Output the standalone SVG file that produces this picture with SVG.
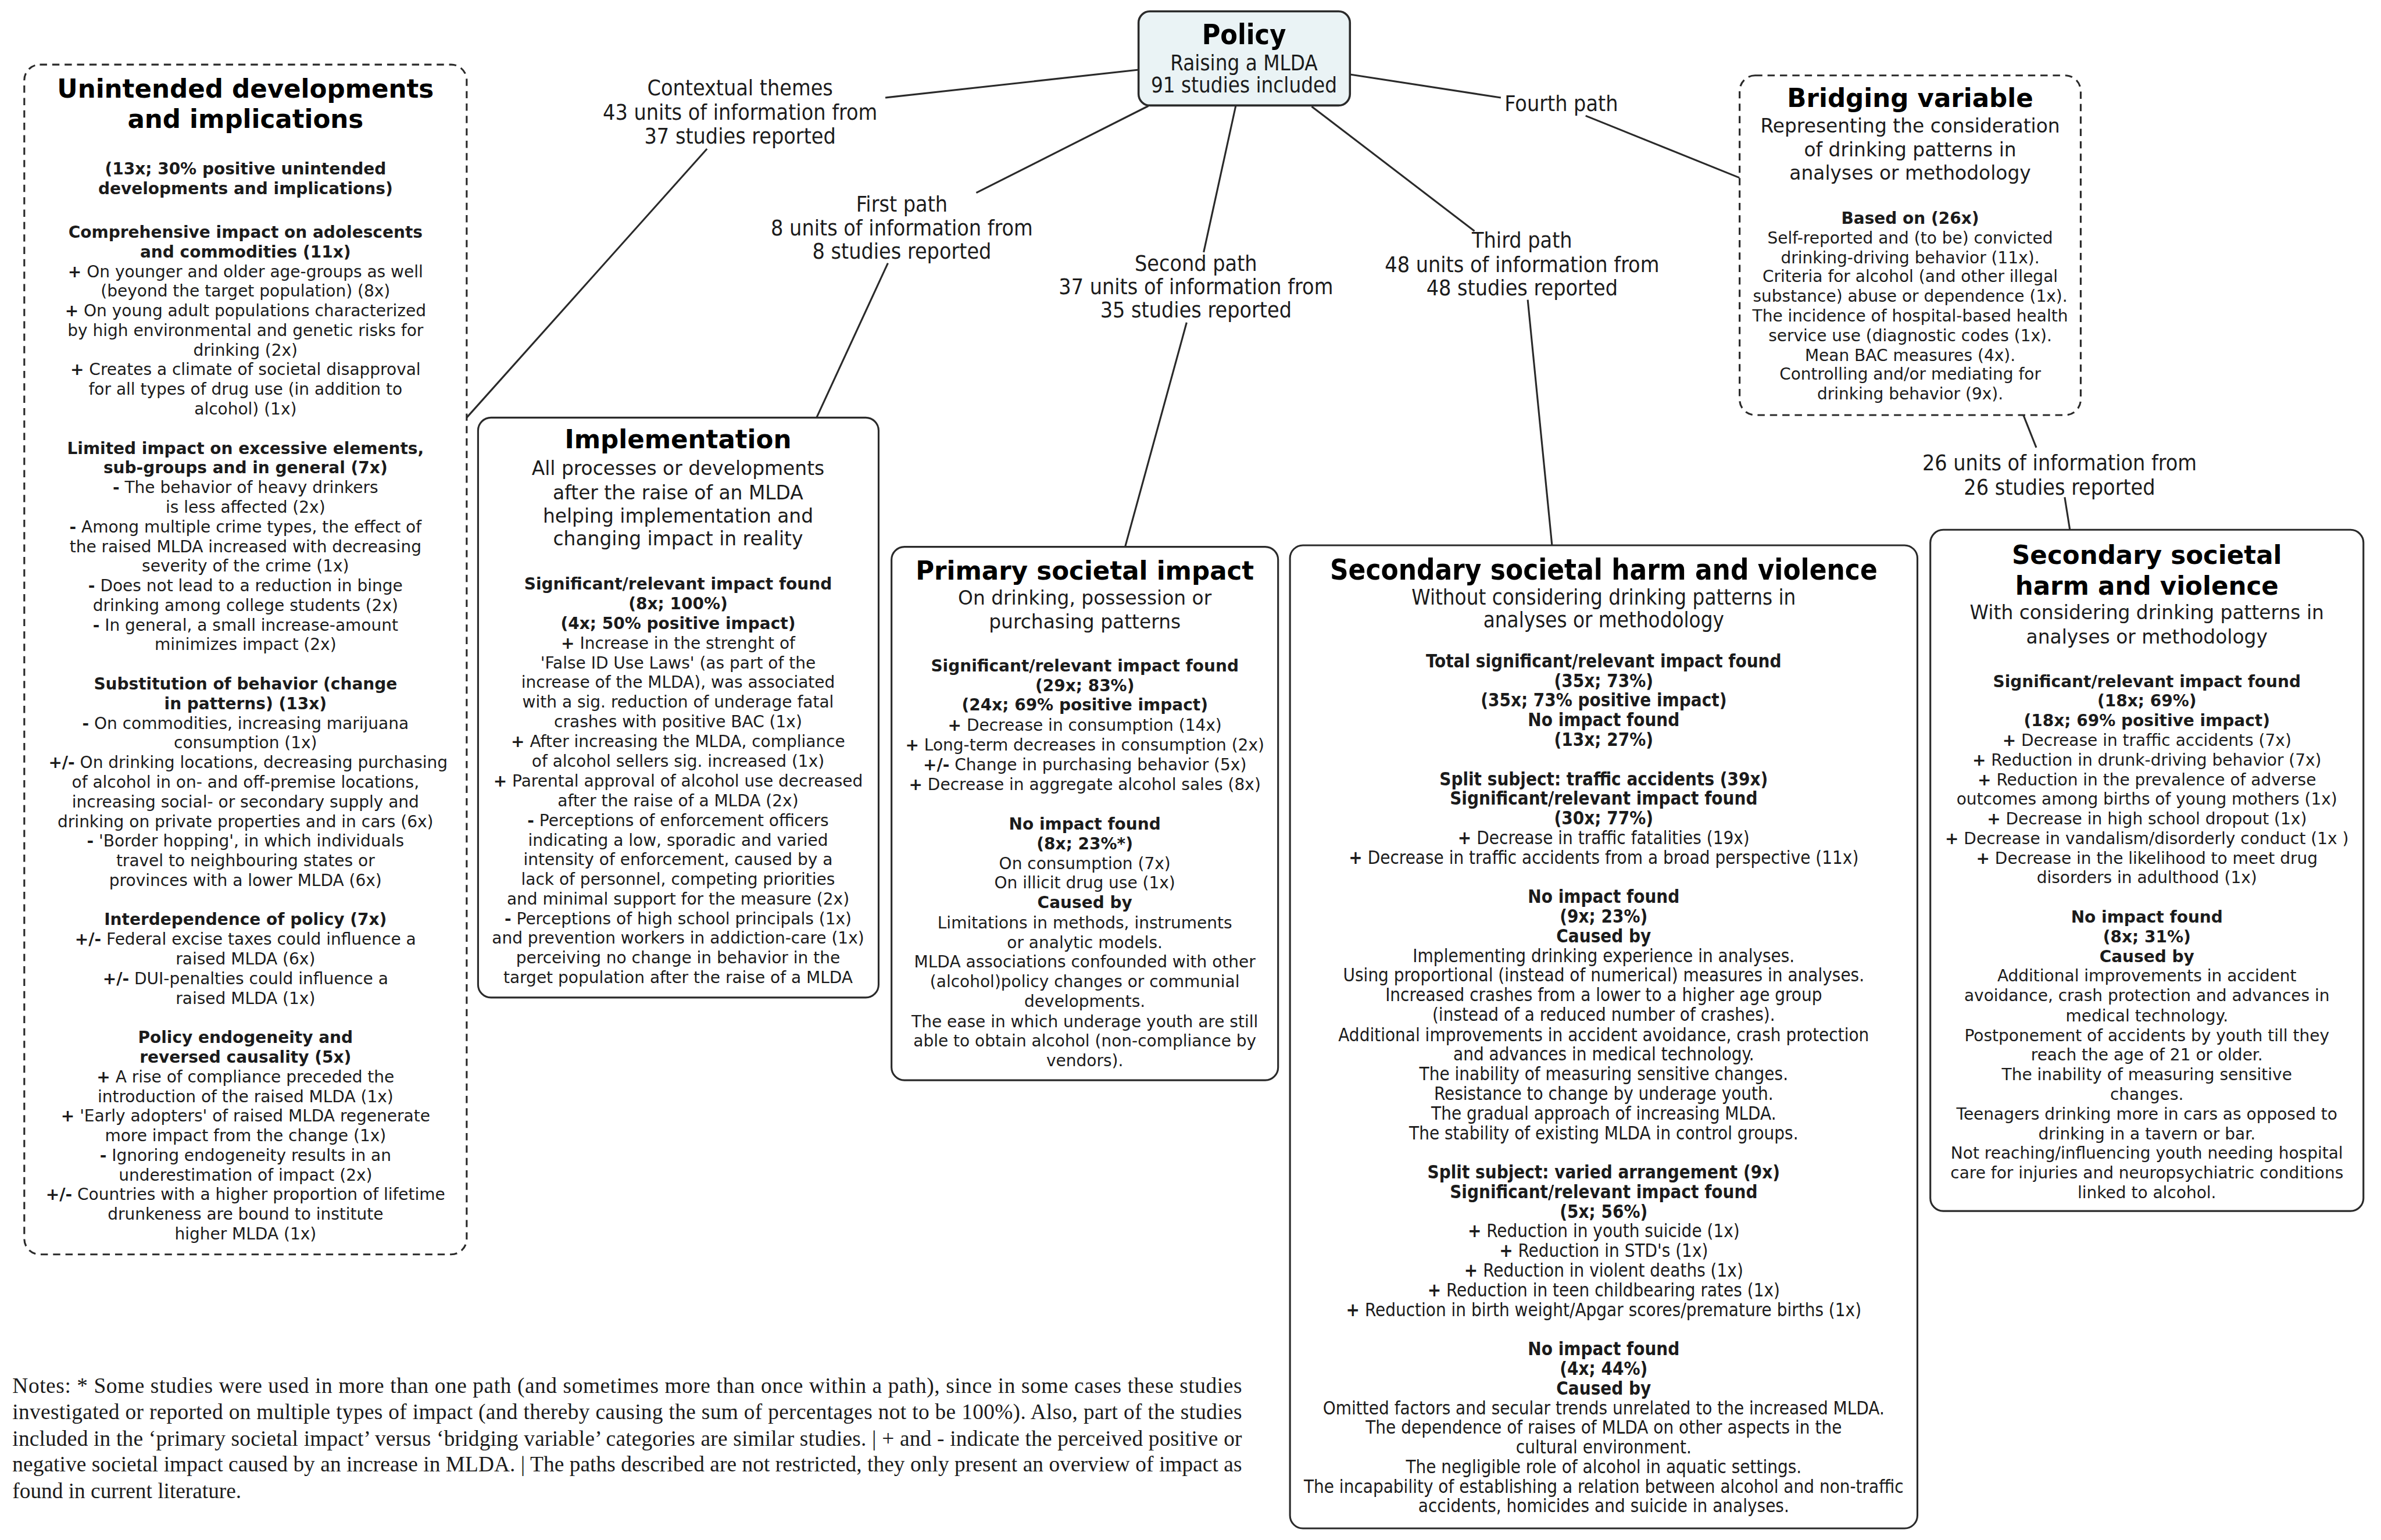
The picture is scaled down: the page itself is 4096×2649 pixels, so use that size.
<svg xmlns="http://www.w3.org/2000/svg" width="4096" height="2649" viewBox="0 0 4096 2649">
<style>
text{fill:#1b1b1b;text-anchor:middle;font-family:'DejaVu Sans',Verdana,sans-serif}
.b{font-size:31.5px}
.h{font-size:31.5px;font-weight:bold}
.t{font-size:49px;font-weight:bold;fill:#000}
.s{font-size:37px}
.c{font-family:'DejaVu Sans Condensed','DejaVu Sans',sans-serif;font-stretch:condensed}
.cb{font-size:35px}
.ch{font-size:35px;font-weight:bold}
.ct{font-size:55px;font-weight:bold;fill:#000}
.cs{font-size:41px}
.lb{font-size:42px}
.n{font-family:'Liberation Serif','Times New Roman',serif;font-size:42px;text-anchor:start}
.box{fill:#fff;stroke:#2a2a2a;stroke-width:3.5}
.dash{fill:#fff;stroke:#2a2a2a;stroke-width:3.5;stroke-dasharray:14 10}
.ln{stroke:#2a2a2a;stroke-width:3.5;fill:none}
</style>
<rect width="4096" height="2649" fill="#fff"/>
<g transform="scale(0.88908)">
<g id="connectors">
<line class="ln" x1="2203" y1="135" x2="1713" y2="189"/>
<line class="ln" x1="1368" y1="288" x2="903" y2="808"/>
<line class="ln" x1="2222" y1="205" x2="1889" y2="373"/>
<line class="ln" x1="1718" y1="509" x2="1580" y2="808"/>
<line class="ln" x1="2391" y1="205" x2="2329" y2="488"/>
<line class="ln" x1="2296" y1="624" x2="2177" y2="1058"/>
<line class="ln" x1="2538" y1="206" x2="2853" y2="447"/>
<line class="ln" x1="2956" y1="580" x2="3003" y2="1055"/>
<line class="ln" x1="2612" y1="144" x2="2904" y2="189"/>
<line class="ln" x1="3068" y1="224" x2="3366" y2="344"/>
<line class="ln" x1="3915" y1="803" x2="3940" y2="866"/>
<line class="ln" x1="3995" y1="962" x2="4005" y2="1025"/>
<g class="c">
<text class="lb" x="1432" y="185">Contextual themes</text>
<text class="lb" x="1432" y="232">43 units of information from</text>
<text class="lb" x="1432" y="278">37 studies reported</text>
<text class="lb" x="1745" y="409">First path</text>
<text class="lb" x="1745" y="455">8 units of information from</text>
<text class="lb" x="1745" y="500">8 studies reported</text>
<text class="lb" x="2314" y="524">Second path</text>
<text class="lb" x="2314" y="569">37 units of information from</text>
<text class="lb" x="2314" y="614">35 studies reported</text>
<text class="lb" x="2945" y="479">Third path</text>
<text class="lb" x="2945" y="526">48 units of information from</text>
<text class="lb" x="2945" y="571">48 studies reported</text>
<text class="lb" x="3021" y="215">Fourth path</text>
<text class="lb" x="3985" y="910">26 units of information from</text>
<text class="lb" x="3985" y="957">26 studies reported</text>
</g>
</g>

<g id="policy">
<rect x="2203" y="22" width="409" height="182" rx="22" fill="#eaf3f5" stroke="#2a2a2a" stroke-width="4"/>
<g class="c">
<text x="2407" y="86" style="font-size:54px;font-weight:bold;fill:#000">Policy</text>
<text class="cs" x="2407" y="136">Raising a MLDA</text>
<text class="cs" x="2407" y="179">91 studies included</text>
</g>
</g>

<g id="unintended">
<rect class="dash" x="47" y="125" width="856" height="2302" rx="30"/>
<text class="t" x="475" y="189">Unintended developments</text>
<text class="t" x="475" y="248">and implications</text>
<text class="h" x="475" y="337">(13x; 30% positive unintended</text>
<text class="h" x="475" y="376">developments and implications)</text>
<text class="h" x="475" y="460">Comprehensive impact on adolescents</text>
<text class="h" x="475" y="498">and commodities (11x)</text>
<text class="b" x="475" y="536"><tspan font-weight="bold">+</tspan> On younger and older age-groups as well</text>
<text class="b" x="475" y="574">(beyond the target population) (8x)</text>
<text class="b" x="475" y="612"><tspan font-weight="bold">+</tspan> On young adult populations characterized</text>
<text class="b" x="475" y="650">by high environmental and genetic risks for</text>
<text class="b" x="475" y="688">drinking (2x)</text>
<text class="b" x="475" y="726"><tspan font-weight="bold">+</tspan> Creates a climate of societal disapproval</text>
<text class="b" x="475" y="764">for all types of drug use (in addition to</text>
<text class="b" x="475" y="802">alcohol) (1x)</text>
<text class="h" x="475" y="878">Limited impact on excessive elements,</text>
<text class="h" x="475" y="916">sub-groups and in general (7x)</text>
<text class="b" x="475" y="954"><tspan font-weight="bold">-</tspan> The behavior of heavy drinkers</text>
<text class="b" x="475" y="992">is less affected (2x)</text>
<text class="b" x="475" y="1030"><tspan font-weight="bold">-</tspan> Among multiple crime types, the effect of</text>
<text class="b" x="475" y="1068">the raised MLDA increased with decreasing</text>
<text class="b" x="475" y="1106">severity of the crime (1x)</text>
<text class="b" x="475" y="1144"><tspan font-weight="bold">-</tspan> Does not lead to a reduction in binge</text>
<text class="b" x="475" y="1182">drinking among college students (2x)</text>
<text class="b" x="475" y="1220"><tspan font-weight="bold">-</tspan> In general, a small increase-amount</text>
<text class="b" x="475" y="1258">minimizes impact (2x)</text>
<text class="h" x="475" y="1334">Substitution of behavior (change</text>
<text class="h" x="475" y="1372">in patterns) (13x)</text>
<text class="b" x="475" y="1410"><tspan font-weight="bold">-</tspan> On commodities, increasing marijuana</text>
<text class="b" x="475" y="1448">consumption (1x)</text>
<text class="b" x="480" y="1486"><tspan font-weight="bold">+/-</tspan> On drinking locations, decreasing purchasing</text>
<text class="b" x="475" y="1524">of alcohol in on- and off-premise locations,</text>
<text class="b" x="475" y="1562">increasing social- or secondary supply and</text>
<text class="b" x="475" y="1600">drinking on private properties and in cars (6x)</text>
<text class="b" x="475" y="1638"><tspan font-weight="bold">-</tspan> 'Border hopping', in which individuals</text>
<text class="b" x="475" y="1676">travel to neighbouring states or</text>
<text class="b" x="475" y="1714">provinces with a lower MLDA (6x)</text>
<text class="h" x="475" y="1790">Interdependence of policy (7x)</text>
<text class="b" x="475" y="1828"><tspan font-weight="bold">+/-</tspan> Federal excise taxes could influence a</text>
<text class="b" x="475" y="1866">raised MLDA (6x)</text>
<text class="b" x="475" y="1904"><tspan font-weight="bold">+/-</tspan> DUI-penalties could influence a</text>
<text class="b" x="475" y="1942">raised MLDA (1x)</text>
<text class="h" x="475" y="2018">Policy endogeneity and</text>
<text class="h" x="475" y="2056">reversed causality (5x)</text>
<text class="b" x="475" y="2094"><tspan font-weight="bold">+</tspan> A rise of compliance preceded the</text>
<text class="b" x="475" y="2132">introduction of the raised MLDA (1x)</text>
<text class="b" x="475" y="2170"><tspan font-weight="bold">+</tspan> 'Early adopters' of raised MLDA regenerate</text>
<text class="b" x="475" y="2208">more impact from the change (1x)</text>
<text class="b" x="475" y="2246"><tspan font-weight="bold">-</tspan> Ignoring endogeneity results in an</text>
<text class="b" x="475" y="2284">underestimation of impact (2x)</text>
<text class="b" x="475" y="2322"><tspan font-weight="bold">+/-</tspan> Countries with a higher proportion of lifetime</text>
<text class="b" x="475" y="2360">drunkeness are bound to institute</text>
<text class="b" x="475" y="2398">higher MLDA (1x)</text>
</g>

<g id="implementation">
<rect class="box" x="925" y="808" width="775" height="1122" rx="25"/>
<text class="t" x="1312" y="867">Implementation</text>
<text class="s" x="1312" y="919">All processes or developments</text>
<text class="s" x="1312" y="966">after the raise of an MLDA</text>
<text class="s" x="1312" y="1011">helping implementation and</text>
<text class="s" x="1312" y="1055">changing impact in reality</text>
<text class="h" x="1312" y="1141">Significant/relevant impact found</text>
<text class="h" x="1312" y="1179">(8x; 100%)</text>
<text class="h" x="1312" y="1217">(4x; 50% positive impact)</text>
<text class="b" x="1312" y="1255"><tspan font-weight="bold">+</tspan> Increase in the strenght of</text>
<text class="b" x="1312" y="1293">'False ID Use Laws' (as part of the</text>
<text class="b" x="1312" y="1331">increase of the MLDA), was associated</text>
<text class="b" x="1312" y="1369">with a sig. reduction of underage fatal</text>
<text class="b" x="1312" y="1407">crashes with positive BAC (1x)</text>
<text class="b" x="1312" y="1445"><tspan font-weight="bold">+</tspan> After increasing the MLDA, compliance</text>
<text class="b" x="1312" y="1483">of alcohol sellers sig. increased (1x)</text>
<text class="b" x="1312" y="1522"><tspan font-weight="bold">+</tspan> Parental approval of alcohol use decreased</text>
<text class="b" x="1312" y="1560">after the raise of a MLDA (2x)</text>
<text class="b" x="1312" y="1598"><tspan font-weight="bold">-</tspan> Perceptions of enforcement officers</text>
<text class="b" x="1312" y="1636">indicating a low, sporadic and varied</text>
<text class="b" x="1312" y="1674">intensity of enforcement, caused by a</text>
<text class="b" x="1312" y="1712">lack of personnel, competing priorities</text>
<text class="b" x="1312" y="1750">and minimal support for the measure (2x)</text>
<text class="b" x="1312" y="1788"><tspan font-weight="bold">-</tspan> Perceptions of high school principals (1x)</text>
<text class="b" x="1312" y="1826">and prevention workers in addiction-care (1x)</text>
<text class="b" x="1312" y="1864">perceiving no change in behavior in the</text>
<text class="b" x="1312" y="1902">target population after the raise of a MLDA</text>
</g>

<g id="primary">
<rect class="box" x="1725" y="1058" width="748" height="1032" rx="25"/>
<text class="t" x="2099" y="1121">Primary societal impact</text>
<text class="s" x="2099" y="1170">On drinking, possession or</text>
<text class="s" x="2099" y="1216">purchasing patterns</text>
<text class="h" x="2099" y="1299">Significant/relevant impact found</text>
<text class="h" x="2099" y="1337">(29x; 83%)</text>
<text class="h" x="2099" y="1375">(24x; 69% positive impact)</text>
<text class="b" x="2099" y="1414"><tspan font-weight="bold">+</tspan> Decrease in consumption (14x)</text>
<text class="b" x="2099" y="1452"><tspan font-weight="bold">+</tspan> Long-term decreases in consumption (2x)</text>
<text class="b" x="2099" y="1490"><tspan font-weight="bold">+/-</tspan> Change in purchasing behavior (5x)</text>
<text class="b" x="2099" y="1528"><tspan font-weight="bold">+</tspan> Decrease in aggregate alcohol sales (8x)</text>
<text class="h" x="2099" y="1605">No impact found</text>
<text class="h" x="2099" y="1643">(8x; 23%*)</text>
<text class="b" x="2099" y="1681">On consumption (7x)</text>
<text class="b" x="2099" y="1719">On illicit drug use (1x)</text>
<text class="h" x="2099" y="1757">Caused by</text>
<text class="b" x="2099" y="1796">Limitations in methods, instruments</text>
<text class="b" x="2099" y="1834">or analytic models.</text>
<text class="b" x="2099" y="1872">MLDA associations confounded with other</text>
<text class="b" x="2099" y="1910">(alcohol)policy changes or communial</text>
<text class="b" x="2099" y="1948">developments.</text>
<text class="b" x="2099" y="1987">The ease in which underage youth are still</text>
<text class="b" x="2099" y="2025">able to obtain alcohol (non-compliance by</text>
<text class="b" x="2099" y="2063">vendors).</text>
</g>

<g id="secondary-without">
<rect class="box" x="2496" y="1055" width="1214" height="1902" rx="25"/>
<g class="c">
<text class="ct" x="3103" y="1121">Secondary societal harm and violence</text>
<text class="cs" x="3103" y="1170">Without considering drinking patterns in</text>
<text class="cs" x="3103" y="1214">analyses or methodology</text>
<text class="ch" x="3103" y="1291">Total significant/relevant impact found</text>
<text class="ch" x="3103" y="1329">(35x; 73%)</text>
<text class="ch" x="3103" y="1367">(35x; 73% positive impact)</text>
<text class="ch" x="3103" y="1405">No impact found</text>
<text class="ch" x="3103" y="1443">(13x; 27%)</text>
<text class="ch" x="3103" y="1519">Split subject: traffic accidents (39x)</text>
<text class="ch" x="3103" y="1557">Significant/relevant impact found</text>
<text class="ch" x="3103" y="1595">(30x; 77%)</text>
<text class="cb" x="3103" y="1633"><tspan font-weight="bold">+</tspan> Decrease in traffic fatalities (19x)</text>
<text class="cb" x="3103" y="1671"><tspan font-weight="bold">+</tspan> Decrease in traffic accidents from a broad perspective (11x)</text>
<text class="ch" x="3103" y="1747">No impact found</text>
<text class="ch" x="3103" y="1785">(9x; 23%)</text>
<text class="ch" x="3103" y="1823">Caused by</text>
<text class="cb" x="3103" y="1861">Implementing drinking experience in analyses.</text>
<text class="cb" x="3103" y="1899">Using proportional (instead of numerical) measures in analyses.</text>
<text class="cb" x="3103" y="1937">Increased crashes from a lower to a higher age group</text>
<text class="cb" x="3103" y="1975">(instead of a reduced number of crashes).</text>
<text class="cb" x="3103" y="2014">Additional improvements in accident avoidance, crash protection</text>
<text class="cb" x="3103" y="2052">and advances in medical technology.</text>
<text class="cb" x="3103" y="2090">The inability of measuring sensitive changes.</text>
<text class="cb" x="3103" y="2128">Resistance to change by underage youth.</text>
<text class="cb" x="3103" y="2166">The gradual approach of increasing MLDA.</text>
<text class="cb" x="3103" y="2204">The stability of existing MLDA in control groups.</text>
<text class="ch" x="3103" y="2280">Split subject: varied arrangement (9x)</text>
<text class="ch" x="3103" y="2318">Significant/relevant impact found</text>
<text class="ch" x="3103" y="2356">(5x; 56%)</text>
<text class="cb" x="3103" y="2394"><tspan font-weight="bold">+</tspan> Reduction in youth suicide (1x)</text>
<text class="cb" x="3103" y="2432"><tspan font-weight="bold">+</tspan> Reduction in STD's (1x)</text>
<text class="cb" x="3103" y="2470"><tspan font-weight="bold">+</tspan> Reduction in violent deaths (1x)</text>
<text class="cb" x="3103" y="2508"><tspan font-weight="bold">+</tspan> Reduction in teen childbearing rates (1x)</text>
<text class="cb" x="3103" y="2546"><tspan font-weight="bold">+</tspan> Reduction in birth weight/Apgar scores/premature births (1x)</text>
<text class="ch" x="3103" y="2622">No impact found</text>
<text class="ch" x="3103" y="2660">(4x; 44%)</text>
<text class="ch" x="3103" y="2698">Caused by</text>
<text class="cb" x="3103" y="2736">Omitted factors and secular trends unrelated to the increased MLDA.</text>
<text class="cb" x="3103" y="2774">The dependence of raises of MLDA on other aspects in the</text>
<text class="cb" x="3103" y="2812">cultural environment.</text>
<text class="cb" x="3103" y="2850">The negligible role of alcohol in aquatic settings.</text>
<text class="cb" x="3103" y="2888">The incapability of establishing a relation between alcohol and non-traffic</text>
<text class="cb" x="3103" y="2926">accidents, homicides and suicide in analyses.</text>
</g>
</g>

<g id="bridging">
<rect class="dash" x="3366" y="146" width="660" height="657" rx="30"/>
<text class="t" x="3696" y="207">Bridging variable</text>
<text class="s" x="3696" y="257">Representing the consideration</text>
<text class="s" x="3696" y="303">of drinking patterns in</text>
<text class="s" x="3696" y="348">analyses or methodology</text>
<text class="h" x="3696" y="433">Based on (26x)</text>
<text class="b" x="3696" y="471">Self-reported and (to be) convicted</text>
<text class="b" x="3696" y="509">drinking-driving behavior (11x).</text>
<text class="b" x="3696" y="546">Criteria for alcohol (and other illegal</text>
<text class="b" x="3696" y="584">substance) abuse or dependence (1x).</text>
<text class="b" x="3696" y="622">The incidence of hospital-based health</text>
<text class="b" x="3696" y="660">service use (diagnostic codes (1x).</text>
<text class="b" x="3696" y="698">Mean BAC measures (4x).</text>
<text class="b" x="3696" y="735">Controlling and/or mediating for</text>
<text class="b" x="3696" y="773">drinking behavior (9x).</text>
</g>

<g id="secondary-with">
<rect class="box" x="3735" y="1025" width="838" height="1318" rx="25"/>
<text class="t" x="4154" y="1091">Secondary societal</text>
<text class="t" x="4154" y="1151">harm and violence</text>
<text class="s" x="4154" y="1198">With considering drinking patterns in</text>
<text class="s" x="4154" y="1245">analyses or methodology</text>
<text class="h" x="4154" y="1329">Significant/relevant impact found</text>
<text class="h" x="4154" y="1367">(18x; 69%)</text>
<text class="h" x="4154" y="1405">(18x; 69% positive impact)</text>
<text class="b" x="4154" y="1443"><tspan font-weight="bold">+</tspan> Decrease in traffic accidents (7x)</text>
<text class="b" x="4154" y="1481"><tspan font-weight="bold">+</tspan> Reduction in drunk-driving behavior (7x)</text>
<text class="b" x="4154" y="1519"><tspan font-weight="bold">+</tspan> Reduction in the prevalence of adverse</text>
<text class="b" x="4154" y="1557">outcomes among births of young mothers (1x)</text>
<text class="b" x="4154" y="1595"><tspan font-weight="bold">+</tspan> Decrease in high school dropout (1x)</text>
<text class="b" x="4154" y="1633"><tspan font-weight="bold">+</tspan> Decrease in vandalism/disorderly conduct (1x )</text>
<text class="b" x="4154" y="1671"><tspan font-weight="bold">+</tspan> Decrease in the likelihood to meet drug</text>
<text class="b" x="4154" y="1709">disorders in adulthood (1x)</text>
<text class="h" x="4154" y="1785">No impact found</text>
<text class="h" x="4154" y="1823">(8x; 31%)</text>
<text class="h" x="4154" y="1861">Caused by</text>
<text class="b" x="4154" y="1899">Additional improvements in accident</text>
<text class="b" x="4154" y="1937">avoidance, crash protection and advances in</text>
<text class="b" x="4154" y="1976">medical technology.</text>
<text class="b" x="4154" y="2014">Postponement of accidents by youth till they</text>
<text class="b" x="4154" y="2052">reach the age of 21 or older.</text>
<text class="b" x="4154" y="2090">The inability of measuring sensitive</text>
<text class="b" x="4154" y="2128">changes.</text>
<text class="b" x="4154" y="2166">Teenagers drinking more in cars as opposed to</text>
<text class="b" x="4154" y="2204">drinking in a tavern or bar.</text>
<text class="b" x="4154" y="2242">Not reaching/influencing youth needing hospital</text>
<text class="b" x="4154" y="2280">care for injuries and neuropsychiatric conditions</text>
<text class="b" x="4154" y="2318">linked to alcohol.</text>
</g>

<g id="notes">
<text class="n" x="24" y="2695" textLength="2379" lengthAdjust="spacing">Notes: * Some studies were used in more than one path (and sometimes more than once within a path), since in some cases these studies</text>
<text class="n" x="24" y="2746" textLength="2379" lengthAdjust="spacing">investigated or reported on multiple types of impact (and thereby causing the sum of percentages not to be 100%). Also, part of the studies</text>
<text class="n" x="24" y="2797" textLength="2379" lengthAdjust="spacing">included in the ‘primary societal impact’ versus ‘bridging variable’ categories are similar studies. | + and - indicate the perceived positive or</text>
<text class="n" x="24" y="2847" textLength="2379" lengthAdjust="spacing">negative societal impact caused by an increase in MLDA. | The paths described are not restricted, they only present an overview of impact as</text>
<text class="n" x="24" y="2898">found in current literature.</text>
</g>
</g>
</svg>
